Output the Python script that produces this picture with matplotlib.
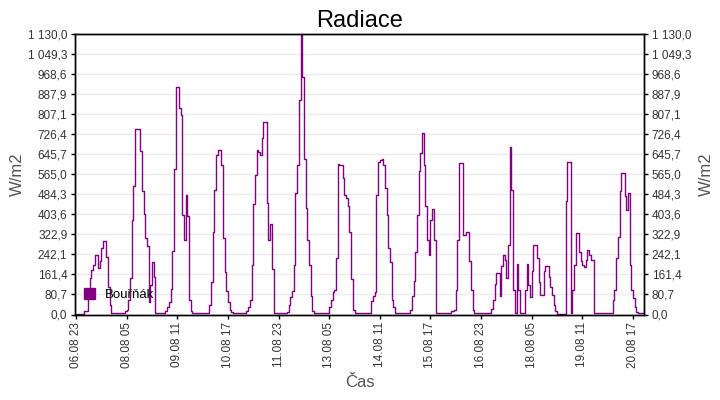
import matplotlib
matplotlib.use("Agg")
import matplotlib.pyplot as plt
from matplotlib.patches import Patch
import numpy as np

# hourly radiation, first value is 06.08 23:00, then one list per day (00:00 .. 23:00)
aug06 = [3]
aug07 = [3, 3, 3, 3, 13, 16, 80, 145, 177, 200, 238, 238, 188, 214, 268, 297, 295, 230, 110, 40, 5, 5, 5, 5]
aug08 = [5, 5, 5, 5, 13, 20, 60, 147, 380, 516, 746, 746, 746, 659, 496, 405, 308, 277, 51, 120, 210, 150, 5, 5]
aug09 = [5, 5, 5, 5, 13, 30, 51, 103, 255, 587, 914, 914, 831, 804, 400, 301, 480, 395, 60, 15, 5, 5, 5, 5]
aug10 = [5, 5, 5, 5, 5, 5, 40, 131, 330, 500, 643, 663, 663, 600, 308, 170, 94, 50, 20, 10, 5, 5, 5, 5]
aug11 = [5, 5, 5, 5, 13, 30, 59, 200, 445, 560, 660, 655, 643, 710, 773, 773, 450, 300, 362, 181, 5, 5, 5, 5]
aug12 = [5, 5, 5, 5, 10, 40, 70, 94, 200, 489, 603, 864, 1123, 954, 626, 430, 300, 201, 74, 13, 5, 5, 5, 5]
aug13 = [5, 5, 5, 5, 5, 30, 60, 90, 100, 228, 606, 600, 600, 550, 480, 470, 435, 331, 141, 20, 5, 5, 5, 5]
aug14 = [5, 5, 5, 5, 5, 5, 55, 75, 91, 480, 614, 620, 627, 600, 509, 400, 268, 212, 60, 30, 5, 5, 5, 5]
aug15 = [5, 5, 5, 5, 5, 20, 76, 134, 250, 400, 579, 650, 728, 600, 435, 300, 241, 379, 426, 300, 5, 5, 5, 5]
aug16 = [5, 5, 5, 5, 5, 15, 15, 18, 100, 300, 610, 610, 318, 318, 330, 330, 217, 100, 17, 5, 5, 5, 5, 5]
aug17 = [5, 5, 5, 5, 5, 24, 60, 121, 165, 165, 74, 194, 238, 220, 147, 281, 673, 502, 100, 5, 205, 100, 5, 5]
aug18 = [5, 100, 205, 120, 70, 174, 279, 279, 228, 131, 80, 80, 174, 194, 194, 150, 110, 80, 40, 15, 3, 3, 3, 3]
aug19 = [3, 458, 612, 612, 5, 100, 200, 326, 326, 250, 217, 200, 190, 220, 261, 240, 221, 221, 5, 5, 5, 5, 5, 5]
aug20 = [5, 5, 5, 5, 5, 60, 100, 228, 311, 496, 570, 570, 476, 420, 489, 200, 100, 67, 29, 10, 5, 5, 5, 5]

tick_labels = ["06.08 23", "08.08 05", "09.08 11", "10.08 17", "11.08 23", "13.08 05",
               "14.08 11", "15.08 17", "16.08 23", "18.08 05", "19.08 11", "20.08 17"]
series_name = "Bouřňák"

values = np.array(aug06 + aug07 + aug08 + aug09 + aug10 + aug11 + aug12 + aug13
                  + aug14 + aug15 + aug16 + aug17 + aug18 + aug19 + aug20, dtype=float)
hours = np.arange(len(values))

plt.rcParams['font.family'] = ['Liberation Sans', 'DejaVu Sans']
purple = "#800080"
label_col = "#333333"

fig = plt.figure(figsize=(7.2, 4.0), dpi=100)
ax = fig.add_axes([75 / 720, 1 - 314.5 / 400, 569 / 720, 281 / 400])

ax.step(hours, values, where="post", color=purple, linewidth=1.0)

ymax = 1130.0
yticks = np.linspace(0, ymax, 15)
ylabels = [f"{v:,.1f}".replace(",", " ").replace(".", ",") for v in yticks]
ax.set_ylim(0, ymax)
ax.set_xlim(-0.6, 336.5)
ax.set_yticks(yticks)
ax.set_yticklabels(ylabels)
ax.set_xticks(np.arange(len(tick_labels)) * 30)
ax.set_xticklabels(tick_labels, rotation=90)
ax.yaxis.grid(True, color="#ebebeb", linewidth=1)
ax.set_axisbelow(True)

ax2 = ax.twinx()
ax2.set_ylim(0, ymax)
ax2.set_yticks(yticks)
ax2.set_yticklabels(ylabels)

for a in (ax, ax2):
    a.tick_params(labelsize=8.5, labelcolor=label_col, length=3, width=1, color="black", pad=2.5)
    for s in a.spines.values():
        s.set_color("black")
        s.set_linewidth(1)

ax.set_ylabel("W/m2", fontsize=12, color="#555555")
ax2.set_ylabel("W/m2", fontsize=12, color="#555555")
ax.yaxis.set_label_coords(-0.088, 0.5)
ax2.yaxis.set_label_coords(1.097, 0.5)
ax.set_xlabel("Čas", fontsize=12, color="#555555", labelpad=5)
ax.set_title("Radiace", fontsize=17, color="black", pad=5)

handle = Patch(facecolor=purple, edgecolor=purple)
ax.legend([handle], [series_name], loc="lower left", frameon=False, fontsize=9.5,
          handlelength=0.8, handleheight=0.8, handletextpad=0.8,
          borderaxespad=0.3, bbox_to_anchor=(0.0, 0.015))

fig.savefig("out.png", dpi=100)
